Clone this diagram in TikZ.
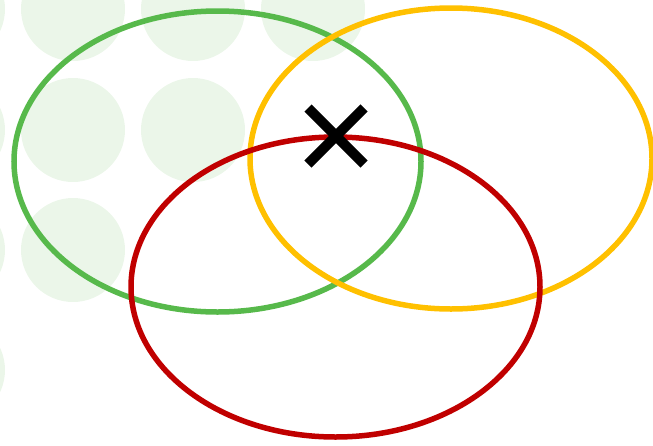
\documentclass[tikz,border=0pt]{standalone}
\usetikzlibrary{calc}
\begin{document}
\begin{tikzpicture}[x=1pt,y=-1pt,
  dot/.style={fill=bgdot,draw=none},
  ring/.style={line width=5.5pt,fill=none},
  cross/.style={line width=10pt,line cap=butt}]
\definecolor{bgdot}{HTML}{EBF6E9}
\definecolor{ggreen}{HTML}{57B94B}
\definecolor{gyellow}{HTML}{FFC000}
\definecolor{gred}{HTML}{C00000}
\useasboundingbox (0,0) rectangle (653,445);
\begin{scope}
\clip (0,0) rectangle (653,445);
% background dots
\foreach \x in {-47,73,193,313} \fill[bgdot] (\x,9) circle (52);
\foreach \x in {-47,73,193} \fill[bgdot] (\x,130) circle (52);
\foreach \x in {-47,73} \fill[bgdot] (\x,250) circle (52);
\foreach \x in {-47} \fill[bgdot] (\x,370) circle (52);
\end{scope}
\draw[ring,draw=ggreen] (217.5,161.5) ellipse [x radius=203.5, y radius=150.5];
\draw[ring,draw=gyellow] (451,158.5) ellipse [x radius=201, y radius=150.5];
\draw[ring,draw=gred] (335.5,287) ellipse [x radius=204.5, y radius=150];
\coordinate (xc) at (336,136);
\draw[cross] ($(xc)+(-28,-28)$) -- ($(xc)+(28,28)$);
\draw[cross] ($(xc)+(-28,28)$) -- ($(xc)+(28,-28)$);
\end{tikzpicture}
\end{document}
